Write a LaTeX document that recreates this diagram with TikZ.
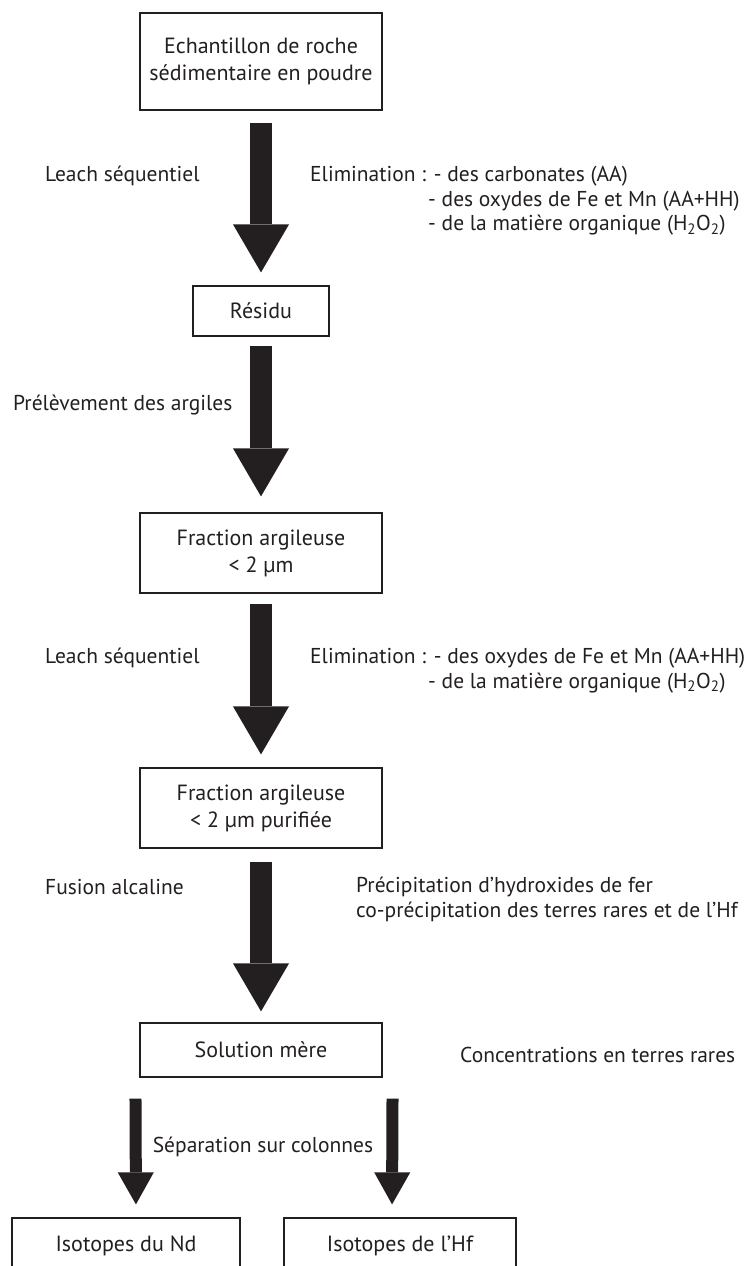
\documentclass[tikz,border=0pt]{standalone}
\usepackage{fontspec}
\setmainfont{PT Sans}
\usetikzlibrary{arrows.meta}
\definecolor{ink}{HTML}{231F20}
\begin{document}
\begin{tikzpicture}[x=1pt,y=-1pt,
  box/.style={draw=ink,line width=1.2pt,align=center,inner sep=0pt,text=ink,font=\fontsize{22}{27}\selectfont},
  lbl/.style={text=ink,inner sep=0pt,align=left,font=\fontsize{21.5}{24.5}\selectfont},
  bigarrow/.style={draw=ink,line width=22pt,-{Triangle[width=56pt,length=48pt,line width=0pt]}},
  smallarrow/.style={draw=ink,line width=12pt,-{Triangle[width=36pt,length=32pt,line width=0pt]}}]
\useasboundingbox (0,0) rectangle (744,1266);

% boxes
\node[box,minimum width=242pt,minimum height=97pt] (sample) at (261,61.5) {Echantillon de roche\\sédimentaire en poudre};
\node[box,minimum width=136pt,minimum height=50pt] (res) at (261,311) {Résidu};
\node[box,minimum width=242pt,minimum height=80pt] (frac) at (261,553) {Fraction argileuse\\< 2 µm};
\node[box,minimum width=242pt,minimum height=80pt] (pur) at (261,808) {Fraction argileuse\\< 2 µm purifiée};
\node[box,minimum width=242pt,minimum height=54pt] (sol) at (261,1050) {Solution mère};
\node[box,minimum width=228pt,minimum height=56pt] (nd) at (126,1246) {Isotopes du Nd};
\node[box,minimum width=232pt,minimum height=56pt] (hf) at (400,1246) {Isotopes de l’Hf};

% arrows
\draw[bigarrow,shorten <=12pt,shorten >=13pt] (sample.south) -- (res.north);
\draw[bigarrow,shorten <=9pt,shorten >=16pt] (res.south) -- (frac.north);
\draw[bigarrow,shorten <=10pt,shorten >=13pt] (frac.south) -- (pur.north);
\draw[bigarrow,shorten <=13pt,shorten >=11pt] (pur.south) -- (sol.north);
\draw[smallarrow,shorten <=21pt,shorten >=13pt] ([xshift=-4pt]sol.south west) -- ([xshift=10pt]nd.north);
\draw[smallarrow,shorten <=21pt,shorten >=13pt] ([xshift=10pt]sol.south east) -- ([xshift=-8pt]hf.north);

% labels
\node[lbl,anchor=west] (l1) at (45,176) {Leach séquentiel};
\node[lbl,anchor=north west] (e1) at (310,166) {Elimination : - des carbonates (AA)\\\hspace*{118pt}- des oxydes de Fe et Mn (AA+HH)\\\hspace*{118pt}- de la matière organique (H\textsubscript{2}O\textsubscript{2})};
\node[lbl,anchor=west] (l2) at (13,405) {Prélèvement des argiles};
\node[lbl,anchor=west] (l3) at (45,658) {Leach séquentiel};
\node[lbl,anchor=north west] (e2) at (310,648) {Elimination : - des oxydes de Fe et Mn (AA+HH)\\\hspace*{118pt}- de la matière organique (H\textsubscript{2}O\textsubscript{2})};
\node[lbl,anchor=west] (l4) at (45,887) {Fusion alcaline};
\node[lbl,anchor=north west] (p1) at (356,877) {Précipitation d’hydroxides de fer\\co-précipitation des terres rares et de l’Hf};
\node[lbl,anchor=west] (c1) at (460,1055) {Concentrations en terres rares};
\node[lbl] (s1) at (263,1147) {Séparation sur colonnes};
\end{tikzpicture}
\end{document}
